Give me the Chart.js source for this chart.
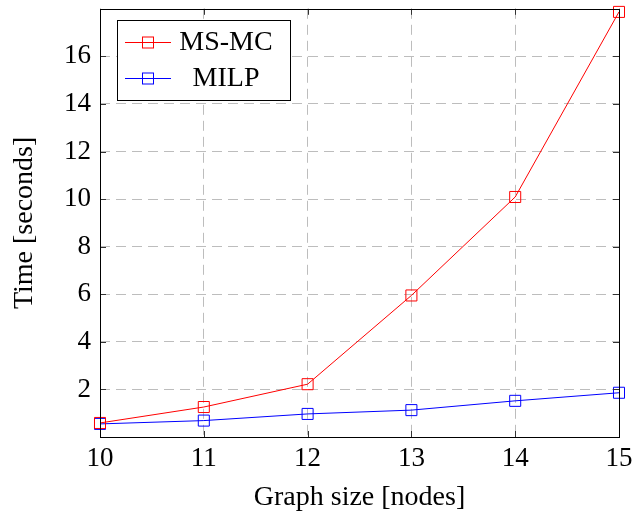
<!DOCTYPE html>
<html>
<head>
<meta charset="utf-8">
<script src="https://cdn.jsdelivr.net/npm/chart.js@4.4.0/dist/chart.umd.min.js"></script>
<style>
  html, body { margin: 0; padding: 0; background: #fff; }
  #wrap { width: 635px; height: 515px; }
</style>
</head>
<body>
<div id="wrap"><canvas id="chart-time"></canvas></div>
<script>
// graph size (nodes)
var graphSizes = [10, 11, 12, 13, 14, 15];
// run time in seconds
var msmcTimes = [0.59, 1.26, 2.22, 5.95, 10.09, 17.87];
var milpTimes = [0.55, 0.69, 0.97, 1.13, 1.52, 1.86];
var yTickValues = [2, 4, 6, 8, 10, 12, 14, 16];

var seriesLabels = ["MS-MC", "MILP"];
var seriesColors = ["#ff0000", "#0000ff"];

var FONT = "'Liberation Serif', 'Times New Roman', serif";

const toPoints = (values) => values.map((v, i) => ({ x: graphSizes[i], y: v }));

// box round the plot, inward ticks and the legend inside the plot
const frameAndLegend = {
  id: "frameAndLegend",
  afterDraw(chart) {
    var ctx = chart.ctx;
    var a = chart.chartArea;
    var xs = chart.scales.x, ys = chart.scales.y;
    ctx.save();
    ctx.strokeStyle = "#333";
    ctx.lineWidth = 1;
    ctx.beginPath();
    graphSizes.forEach(function (v) {
      var px = Math.round(xs.getPixelForValue(v)) + 0.5;
      ctx.moveTo(px, a.bottom); ctx.lineTo(px, a.bottom - 6);
      ctx.moveTo(px, a.top); ctx.lineTo(px, a.top + 6);
    });
    yTickValues.forEach(function (v) {
      var py = Math.round(ys.getPixelForValue(v)) + 0.5;
      ctx.moveTo(a.left, py); ctx.lineTo(a.left + 6, py);
      ctx.moveTo(a.right, py); ctx.lineTo(a.right - 6, py);
    });
    ctx.stroke();
    ctx.strokeStyle = "#000";
    ctx.strokeRect(Math.round(a.left) + 0.5, Math.round(a.top) + 0.5,
      Math.round(a.right - a.left), Math.round(a.bottom - a.top));

    // legend
    var bx = 117.5, by = 20.5, bw = 173, bh = 80;
    ctx.fillStyle = "#fff";
    ctx.fillRect(bx, by, bw, bh);
    ctx.strokeStyle = "#000";
    ctx.strokeRect(bx, by, bw, bh);
    chart.data.datasets.forEach(function (ds, i) {
      var cy = 42 + i * 36;
      ctx.strokeStyle = ds.borderColor;
      ctx.lineWidth = 1;
      ctx.beginPath();
      ctx.moveTo(125, cy + 0.5); ctx.lineTo(171, cy + 0.5);
      ctx.stroke();
      ctx.strokeRect(142.5, cy - 5, 11, 11);
      ctx.fillStyle = "#000";
      ctx.font = "28px " + FONT;
      ctx.textAlign = "center";
      ctx.textBaseline = "middle";
      ctx.fillText(ds.label, 226, cy + 1);
    });
    ctx.restore();
  }
};

var timeCtx = document.getElementById("chart-time").getContext("2d");

new Chart(timeCtx, {
  type: "line",
  data: {
    datasets: [
      {
        label: seriesLabels[0],
        data: toPoints(msmcTimes),
        borderColor: seriesColors[0],
        backgroundColor: "transparent",
        borderWidth: 1,
        pointStyle: "rect",
        pointRadius: 7.8,
        pointBorderWidth: 1,
        pointBackgroundColor: "transparent",
        tension: 0,
      },
      {
        label: seriesLabels[1],
        data: toPoints(milpTimes),
        borderColor: seriesColors[1],
        backgroundColor: "transparent",
        borderWidth: 1,
        pointStyle: "rect",
        pointRadius: 7.8,
        pointBorderWidth: 1,
        pointBackgroundColor: "transparent",
        tension: 0,
      },
    ],
  },
  options: {
    responsive: true,
    maintainAspectRatio: false,
    animation: false,
    clip: false,
    layout: { padding: { left: 0, right: 16, top: 7, bottom: 0 } },
    plugins: {
      legend: { display: false },
      tooltip: { enabled: false },
    },
    scales: {
      x: {
        type: "linear",
        min: 10,
        max: 15,
        afterBuildTicks: (scale) => { scale.ticks = graphSizes.map(v => ({ value: v })); },
        afterFit: (scale) => {
          scale.height = 78;
          scale.paddingLeft = 0;
          scale.paddingRight = 0;
        },
        ticks: {
          color: "#000",
          padding: 6,
          font: { family: FONT, size: 27 },
        },
        grid: { color: "#bdbdbd", lineWidth: 1, drawTicks: false },
        border: { display: false, dash: [10, 6] },
        title: {
          display: true,
          text: "Graph size [nodes]",
          color: "#000",
          font: { family: FONT, size: 28 },
          padding: { top: 0, bottom: 1 },
        },
      },
      y: {
        min: 0,
        max: 18,
        afterBuildTicks: (scale) => { scale.ticks = yTickValues.map(v => ({ value: v })); },
        afterFit: (scale) => {
          scale.width = 100;
          scale.paddingTop = 0;
          scale.paddingBottom = 0;
        },
        ticks: {
          color: "#000",
          padding: 9,
          font: { family: FONT, size: 27 },
        },
        grid: { color: "#bdbdbd", lineWidth: 1, drawTicks: false },
        border: { display: false, dash: [10, 6] },
        title: {
          display: true,
          text: "Time [seconds]",
          color: "#000",
          font: { family: FONT, size: 28 },
          padding: { top: 8, bottom: 0 },
        },
      },
    },
  },
  plugins: [frameAndLegend],
});
</script>
</body>
</html>
